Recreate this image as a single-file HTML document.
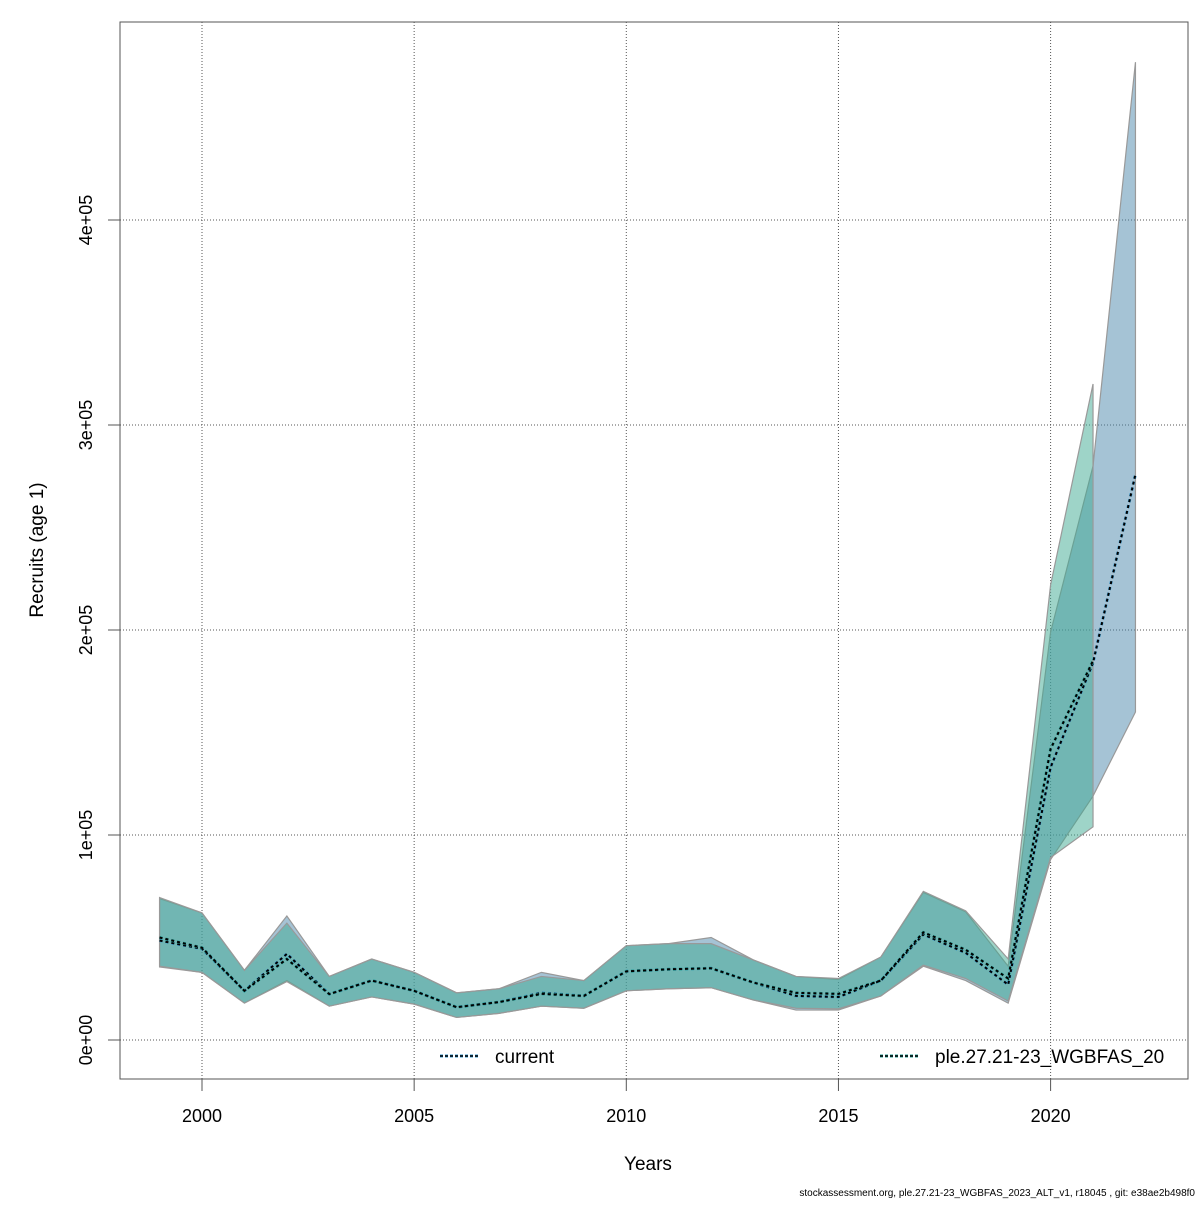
<!DOCTYPE html>
<html><head><meta charset="utf-8"><style>
body{margin:0;background:#fff;width:1200px;height:1200px;overflow:hidden}
svg text{font-family:"Liberation Sans",sans-serif}
</style></head><body>
<svg id="chart" width="1200" height="1200" xmlns="http://www.w3.org/2000/svg"></svg>
<script>
const curYears=[1999,2000,2001,2002,2003,2004,2005,2006,2007,2008,2009,2010,2011,2012,2013,2014,2015,2016,2017,2018,2019,2020,2021,2022];
const curMean=[48500,44500,24000,42000,22400,29000,24000,16000,18500,23000,21500,33500,34500,35000,28000,21500,21000,29000,51500,42500,27000,133000,184000,276000];
const curLow=[35600,33000,18000,29000,16500,21000,17500,11000,13000,16500,15500,24000,25000,25500,19500,14600,14600,21500,36000,29000,18000,88000,119000,160000];
const curHigh=[69000,62000,34000,60500,31000,39500,33000,23000,25000,33000,29000,46000,47000,50000,39000,31000,29500,40500,72000,62500,36000,199000,280000,477000];
const pleYears=[1999,2000,2001,2002,2003,2004,2005,2006,2007,2008,2009,2010,2011,2012,2013,2014,2015,2016,2017,2018,2019,2020,2021];
const pleMean=[50000,45000,24000,39500,22400,29000,24000,16000,18500,22500,21500,33500,34500,35000,28000,23000,22500,29000,52500,44000,30000,142000,185000];
const pleLow=[36000,33000,18000,28500,16500,21000,17500,11000,13000,16500,15500,24000,25000,25500,19500,15500,15200,21500,36500,30000,19000,89000,104000];
const pleHigh=[69500,62000,34000,57000,31000,39500,33000,23000,25000,31000,29000,46000,47000,47000,39000,31000,30000,40500,72500,63000,39500,222000,320000];
const xTicks=[2000,2005,2010,2015,2020];
const yTicks=[0,100000,200000,300000,400000];
const yTickLabels=["0e+00","1e+05","2e+05","3e+05","4e+05"];
const X=y=>202+(y-2000)*42.43;
const Y=v=>1040-v*205/100000;
const svg=document.getElementById('chart');
const NS='http://www.w3.org/2000/svg';
function mk(tag,attrs,parent){const e=document.createElementNS(NS,tag);for(const k in attrs)e.setAttribute(k,attrs[k]);(parent||svg).appendChild(e);return e;}
// grid
xTicks.forEach(t=>{const l=mk('line',{x1:X(t),x2:X(t),y1:22,y2:1079,stroke:'#555','stroke-dasharray':'1,2','stroke-width':1});

});
yTicks.forEach(t=>{const l=mk('line',{x1:120,x2:1188,y1:Y(t),y2:Y(t),stroke:'#555','stroke-dasharray':'1,2','stroke-width':1});

});
function band(years,lo,hi,fill,name){
 let pts=years.map((y,i)=>X(y)+','+Y(hi[i]));
 for(let i=years.length-1;i>=0;i--)pts.push(X(years[i])+','+Y(lo[i]));
 const p=mk('polygon',{points:pts.join(' '),fill:fill,'fill-opacity':0.5,stroke:'#999','stroke-width':1.2});
 
 
}
function line(years,v,col,name){
 const pts=years.map((y,i)=>X(y)+','+Y(v[i])).join(' ');
 const a=mk('polyline',{points:pts,fill:'none',stroke:col,'stroke-width':3,'stroke-dasharray':'3,3'});
 
 
 const b=mk('polyline',{points:pts,fill:'none',stroke:'#000','stroke-width':2,'stroke-dasharray':'3,3','stroke-dashoffset':0});
 
 
}
band(curYears,curLow,curHigh,'rgb(75,135,172)','current-ci-band');
band(pleYears,pleLow,pleHigh,'rgb(62,170,145)','ple-ci-band');
line(curYears,curMean,'#3a9ad0','current-line');
line(pleYears,pleMean,'#2aa198','ple-line');
// frame
const f=mk('rect',{x:120,y:22,width:1068,height:1057,fill:'none',stroke:'#555','stroke-width':1});


xTicks.forEach(t=>{mk('line',{x1:X(t),x2:X(t),y1:1079,y2:1091,stroke:'#555'});
 const tx=mk('text',{x:X(t),y:1122,'font-size':18,'text-anchor':'middle',fill:'#000'});tx.textContent=t;
 
 });
yTicks.forEach((t,i)=>{mk('line',{x1:108,x2:120,y1:Y(t),y2:Y(t),stroke:'#555'});
 const tx=mk('text',{x:0,y:0,'font-size':18,'text-anchor':'middle',fill:'#000',transform:`translate(92,${Y(t)}) rotate(-90)`});tx.textContent=yTickLabels[i];
 
 });
const xt=mk('text',{x:648,y:1170,'font-size':19,'text-anchor':'middle'});xt.textContent='Years';


const yt=mk('text',{x:0,y:0,'font-size':19,'text-anchor':'middle',transform:'translate(43,550) rotate(-90)'});yt.textContent='Recruits (age 1)';


// legend
function leg(x,col,label,name){
 mk('line',{x1:x,x2:x+40,y1:1056,y2:1056,stroke:col,'stroke-width':3,'stroke-dasharray':'3,2'});
 mk('line',{x1:x,x2:x+40,y1:1056,y2:1056,stroke:'#000','stroke-width':1.5,'stroke-dasharray':'3,2'});
 const t=mk('text',{x:x+55,y:1063,'font-size':19});t.textContent=label;
 
 
}
leg(440,'#3a9ad0','current','legend-entry-current');
leg(880,'#2aa198','ple.27.21-23_WGBFAS_20','legend-entry-ple');
mk('rect',{x:1189,y:1040,width:11,height:40,fill:'#fff'});
mk('line',{x1:1188,x2:1188,y1:22,y2:1079,stroke:'#555'});
const fn=mk('text',{x:1195,y:1196,'font-size':10,'text-anchor':'end'});fn.textContent='stockassessment.org, ple.27.21-23_WGBFAS_2023_ALT_v1, r18045 , git: e38ae2b498f0';


</script>
</body></html>
